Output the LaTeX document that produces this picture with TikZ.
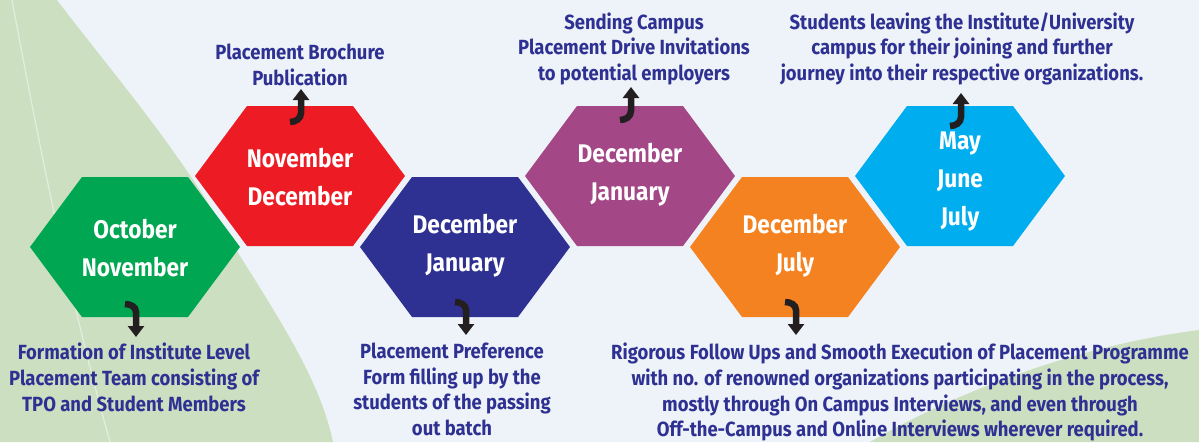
\documentclass[tikz,border=0pt]{standalone}
\usepackage{fontspec}
\setmainfont{Fira Sans}
\newfontfamily\hexfont{Fira Sans}[FakeStretch=0.89]
\newfontfamily\notefont{Fira Sans}[FakeStretch=0.9]
\usetikzlibrary{arrows.meta,calc}
\definecolor{bgsky}{RGB}{238,243,249}
\definecolor{leaf}{RGB}{205,223,193}
\definecolor{noteblue}{RGB}{46,49,146}
\definecolor{hexgreen}{RGB}{0,166,81}
\definecolor{hexred}{RGB}{237,28,36}
\definecolor{hexnavy}{RGB}{46,49,146}
\definecolor{hexplum}{RGB}{163,71,135}
\definecolor{hexorange}{RGB}{245,130,32}
\definecolor{hexcyan}{RGB}{0,174,239}
\definecolor{ink}{RGB}{35,31,32}
\tikzset{
  month/.style={font=\hexfont\bfseries\fontsize{25.5}{38}\selectfont,text=white,align=center,inner sep=0pt},
  note/.style={font=\notefont\bfseries\fontsize{20.5}{25.6}\selectfont,text=noteblue,align=center,inner sep=0pt},
  hookarr/.style={draw=ink,line width=6.5pt,-{Triangle[width=16pt,length=11pt]}},
}

\begin{document}
\begin{tikzpicture}[x=1pt,y=-1pt]
\useasboundingbox (0,0) rectangle (1199,442);
% background and leaves
\fill[bgsky] (0,0) rectangle (1199,442);
\fill[leaf] (0,0) -- (57,0) .. controls (110,70) and (180,150) .. (230,240)
  .. controls (280,320) and (320,380) .. (333,442) -- (0,442) -- cycle;
\fill[leaf] (870,442) .. controls (960,390) and (1080,345) .. (1199,330) -- (1199,442) -- cycle;
\draw[white,opacity=.45,line width=1.2pt] (12,0) .. controls (40,150) and (70,300) .. (110,442);
% hexagons
\foreach \cx/\cy/\col in {135/247/hexgreen,300/176/hexred,465/247/hexnavy,
                          630/176/hexplum,795/247/hexorange,960/176/hexcyan}
  \fill[\col] (\cx-105,\cy) -- ++(52,-70) -- ++(106,0) -- ++(52,70)
    -- ++(-52,70) -- ++(-106,0) -- cycle;
% month texts
\node[month] (octnov) at (135,248) {October\\November};
\node[month] (novdec) at (300,177) {November\\December};
\node[month] (decjan) at (465,246) {December\\January};
\node[month] (decjanb) at (630,175) {December\\January};
\node[month] (decjul) at (795,246) {December\\July};
\node[month] (mayjul) at (960,181) {May\\June\\July};
% notes
\node[note,anchor=north] (team) at (134,343) {Formation of Institute Level\\Placement Team consisting of\\TPO and Student Members};
\node[note,anchor=south] (brochure) at (300,86) {Placement Brochure\\Publication};
\node[note,anchor=north] (prefer) at (452,343) {Placement Preference\\Form filling up by the\\students of the passing\\out batch};
\node[note,anchor=south] (invite) at (634,85) {Sending Campus\\Placement Drive Invitations\\to potential employers};
\node[note,anchor=north] (followup) at (900,343) {Rigorous Follow Ups and Smooth Execution of Placement Programme\\with no. of renowned organizations participating in the process,\\mostly through On Campus Interviews, and even through\\Off-the-Campus and Online Interviews wherever required.};
\node[note,anchor=south] (leaving) at (962,85) {Students leaving the Institute/University\\campus for their joining and further\\journey into their respective organizations.};
% hooked arrows
\foreach \h in {novdec,decjanb,mayjul}
  \draw[hookarr] ($(\h)+(-10,-55)$) to[out=0,in=-90] ($(\h)+(1,-64)$) -- ($(\h)+(1,-88)$);
\foreach \h in {octnov,decjan,decjul}
  \draw[hookarr] ($(\h)+(-10,56)$) to[out=0,in=90] ($(\h)+(1,64)$) -- ($(\h)+(1,89)$);
\end{tikzpicture}
\end{document}
